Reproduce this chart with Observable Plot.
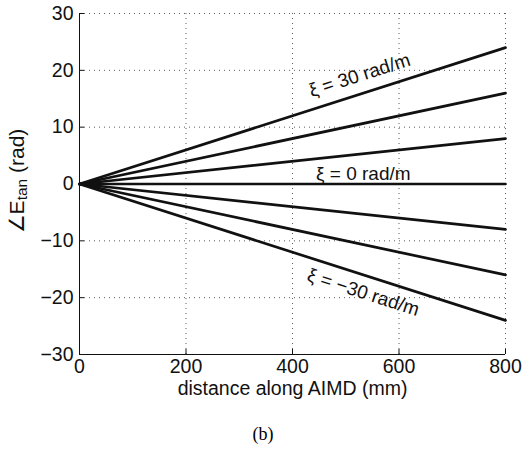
<!DOCTYPE html>
<html>
<head>
<meta charset="utf-8">
<script src="https://cdn.jsdelivr.net/npm/d3@7"></script>
<script src="https://cdn.jsdelivr.net/npm/@observablehq/plot@0.6"></script>
<style>
  body { margin: 0; background: #fff; }
  #caption { width: 526px; text-align: center; font-family: "Liberation Serif", "DejaVu Serif", serif; font-size: 18px; line-height: 48px; height: 39px; }
</style>
</head>
<body>
<div id="chart"></div>
<div id="caption">(b)</div>
<script>
// data
const xiValues = [30, 20, 10, 0, -10, -20, -30];      // rad/m
const distance = [0, 800];                             // mm
const phaseAtStart = [0, 0, 0, 0, 0, 0, 0];            // rad
const phaseAtEnd = [24, 16, 8, 0, -8, -16, -24];       // rad
const xTicks = [0, 200, 400, 600, 800];
const yTicks = [-30, -20, -10, 0, 10, 20, 30];
const labelText = ["ξ = 30 rad/m", "ξ = 0 rad/m", "ξ = −30 rad/m"];
const labelX = [526, 533, 533];
const labelY = [19.1, 1.85, -19.1];
const labelAngle = [-17.8, 0, 17.8];

const rows = [];
xiValues.forEach((xi, i) => {
  rows.push({xi, d: distance[0], p: phaseAtStart[i]});
  rows.push({xi, d: distance[1], p: phaseAtEnd[i]});
});
const labels = labelText.map((t, i) => ({t, x: labelX[i], y: labelY[i], r: labelAngle[i]}));

const plot = Plot.plot({
  width: 526,
  height: 410,
  marginLeft: 79,
  marginRight: 21,
  marginTop: 13,
  marginBottom: 56,
  style: {fontFamily: "'Liberation Sans', Arial, sans-serif", fontSize: "19px", color: "#111", background: "#fff"},
  x: {domain: [0, 800], ticks: xTicks},
  y: {domain: [-30, 30], ticks: yTicks},
  marks: [
    Plot.gridX(xTicks, {stroke: "#333", strokeOpacity: 0.8, strokeDasharray: "1,4"}),
    Plot.gridY(yTicks, {stroke: "#333", strokeOpacity: 0.8, strokeDasharray: "1,4"}),
    Plot.ruleX([0], {stroke: "#111"}),
    Plot.ruleY([-30], {stroke: "#111"}),
    Plot.axisX({ticks: xTicks, tickSize: -5, tickPadding: 10, label: "distance along AIMD (mm)", labelAnchor: "center", labelArrow: false, labelOffset: 40, fontSize: 19.5}),
    Plot.axisY({ticks: yTicks, tickSize: -5, tickPadding: 11, label: null, fontSize: 19.5}),
    Plot.line(rows, {x: "d", y: "p", z: "xi", stroke: "#111", strokeWidth: 2.7}),
    Plot.text(labels, {x: "x", y: "y", text: "t", rotate: "r", fontSize: 19, fill: "#111"})
  ]
});
document.getElementById("chart").appendChild(plot);

const svg = d3.select(plot);

// y axis title with subscript
const t = svg.append("text")
  .attr("transform", "translate(18,181) rotate(-90)")
  .attr("text-anchor", "middle")
  .attr("dominant-baseline", "middle")
  .attr("font-size", 21)
  .attr("fill", "#111");
t.append("tspan").text("∠E");
t.append("tspan").attr("font-size", 15.5).attr("dy", 5).text("tan");
t.append("tspan").attr("dy", -5).text(" (rad)");
</script>
</body>
</html>
